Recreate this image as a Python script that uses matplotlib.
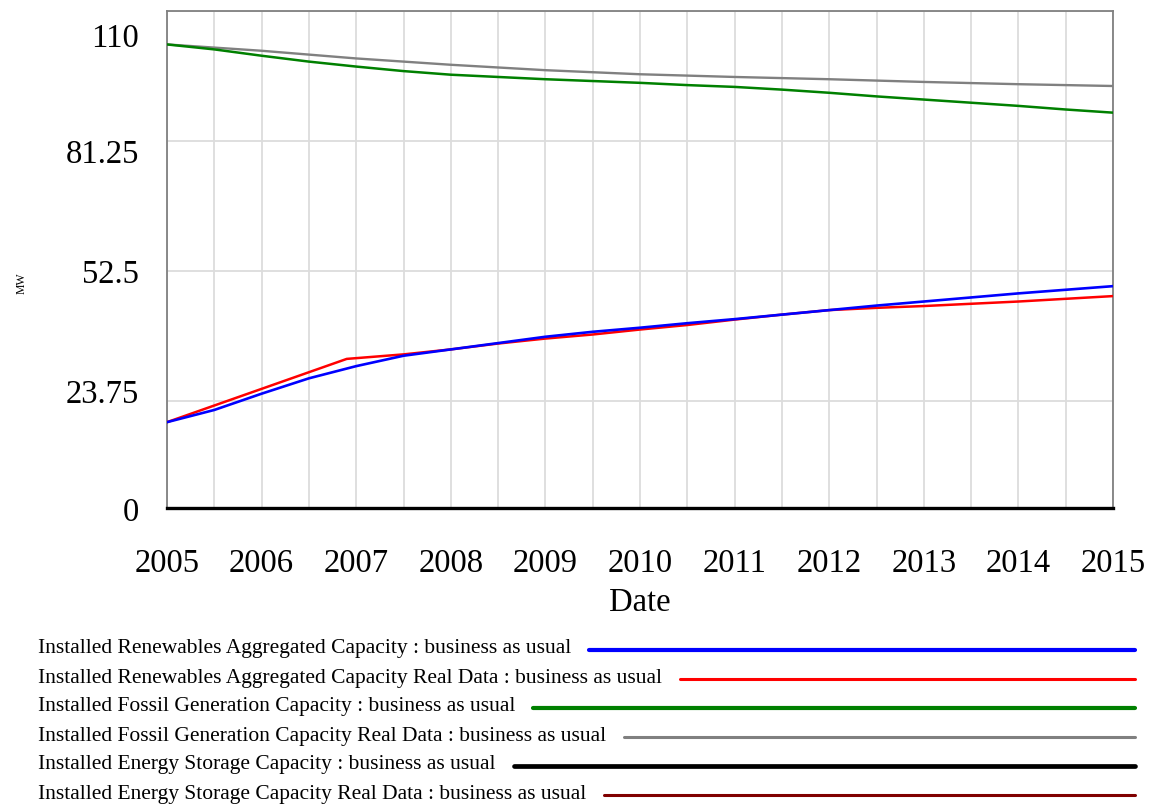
import matplotlib
matplotlib.use("Agg")
import matplotlib.pyplot as plt
from matplotlib.lines import Line2D
from matplotlib.transforms import ScaledTranslation

plt.rcParams['font.family'] = ['Liberation Serif', 'DejaVu Serif']

# ---------------- data ----------------
half_years = [2005, 2005.5, 2006, 2006.5, 2007, 2007.5, 2008, 2008.5, 2009, 2009.5, 2010,
              2010.5, 2011, 2011.5, 2012, 2012.5, 2013, 2013.5, 2014, 2014.5, 2015]

renew_sim = [19.0, 21.7, 25.3, 28.7, 31.4, 33.7, 35.1, 36.5, 37.9, 39.0, 39.9,
             40.9, 41.8, 42.8, 43.8, 44.8, 45.7, 46.6, 47.5, 48.3, 49.1]

renew_real_x = [2005, 2006.9, 2007.5, 2008, 2008.5, 2009, 2009.5, 2010, 2010.5, 2011,
                2011.5, 2012, 2012.5, 2013, 2013.5, 2014, 2014.5, 2015]
renew_real = [19.0, 33.0, 34.0, 35.1, 36.4, 37.5, 38.4, 39.5, 40.5, 41.7,
              42.8, 43.8, 44.3, 44.7, 45.2, 45.7, 46.3, 46.9]

fossil_sim = [102.6, 101.5, 100.1, 98.8, 97.7, 96.7, 95.9, 95.4, 94.9, 94.5, 94.1,
              93.6, 93.2, 92.6, 91.9, 91.1, 90.4, 89.7, 89.0, 88.2, 87.5]

years = [2005, 2006, 2007, 2008, 2009, 2010, 2011, 2012, 2013, 2014, 2015]
fossil_real = [102.6, 101.2, 99.5, 98.1, 96.9, 96.0, 95.4, 94.9, 94.3, 93.8, 93.4]

storage_sim = [0] * len(years)
storage_real = [0] * len(years)

y_ticks = [0, 23.75, 52.5, 81.25, 110]
y_tick_labels = ["0", "23.75", "52.5", "81.25", "110"]
x_tick_labels = [str(y) for y in years]

legend_labels = [
    "Installed Renewables Aggregated Capacity : business as usual",
    "Installed Renewables Aggregated Capacity Real Data : business as usual",
    "Installed Fossil Generation Capacity : business as usual",
    "Installed Fossil Generation Capacity Real Data : business as usual",
    "Installed Energy Storage Capacity : business as usual",
    "Installed Energy Storage Capacity Real Data : business as usual",
]
colors = ["#0000ff", "#ff0000", "#008000", "#808080", "#000000", "#800000"]
legend_lw = [3.0, 2.2, 3.0, 2.2, 3.4, 2.2]

# ---------------- figure ----------------
W, H = 1162, 808
fig = plt.figure(figsize=(W / 100, H / 100), dpi=100)
ax = fig.add_axes([167 / W, 1 - 508 / H, (1113 - 167) / W, (508 - 11) / H])

ax.plot(years, storage_real, color=colors[5], lw=2.0, clip_on=False, zorder=3)
ax.plot(years, storage_sim, color=colors[4], lw=2.4, clip_on=False, zorder=4)
ax.plot(years, fossil_real, color=colors[3], lw=1.7, zorder=3)
ax.plot(half_years, fossil_sim, color=colors[2], lw=1.8, zorder=4)
ax.plot(renew_real_x, renew_real, color=colors[1], lw=1.8, zorder=3)
ax.plot(half_years, renew_sim, color=colors[0], lw=1.9, zorder=4)

ax.set_xlim(2005, 2015)
ax.set_ylim(0, 110)

ax.set_xticks(years)
ax.set_xticklabels(x_tick_labels, fontsize=23.5)
ax.set_xticks([y + 0.5 for y in years[:-1]], minor=True)
ax.set_yticks(y_ticks)
ax.set_yticklabels(y_tick_labels, fontsize=23.5)
ax.tick_params(axis='both', which='both', length=0)
ax.tick_params(axis='x', pad=29)
ax.tick_params(axis='y', pad=20)

ax.grid(True, which='both', color='#dcdcdc', lw=1.3, zorder=0)
ax.set_axisbelow(True)
for s in ['left', 'top', 'right', 'bottom']:
    ax.spines[s].set_color('#808080')
    ax.spines[s].set_linewidth(1.3)

# Vensim-style shifted y labels (pixel offsets, downward positive)
label_shift_px = [1, -9, 0, 10, 24]
for lab, d in zip(ax.get_yticklabels(), label_shift_px):
    lab.set_transform(lab.get_transform() + ScaledTranslation(0, -d / 100, fig.dpi_scale_trans))

ax.set_xlabel("Date", fontsize=23.5, labelpad=6)
fig.text(22 / W, 1 - 283 / H, "MW", rotation=90, fontsize=8.5, ha='center', va='center')

# ---------------- legend ----------------
renderer = fig.canvas.get_renderer()
row_y = [649, 678, 707, 736, 765, 794]
for lab, c, lw, yy in zip(legend_labels, colors, legend_lw, row_y):
    t = fig.text(38 / W, 1 - yy / H, lab, fontsize=15.5, ha='left', va='center')
    bb = t.get_window_extent(renderer)
    x0 = bb.x1 + 18
    fig.add_artist(Line2D([x0 / W, 1135 / W], [1 - (yy + 1) / H, 1 - (yy + 1) / H],
                          transform=fig.transFigure, color=c, lw=lw, solid_capstyle='round'))

fig.savefig("out.png", dpi=100)
